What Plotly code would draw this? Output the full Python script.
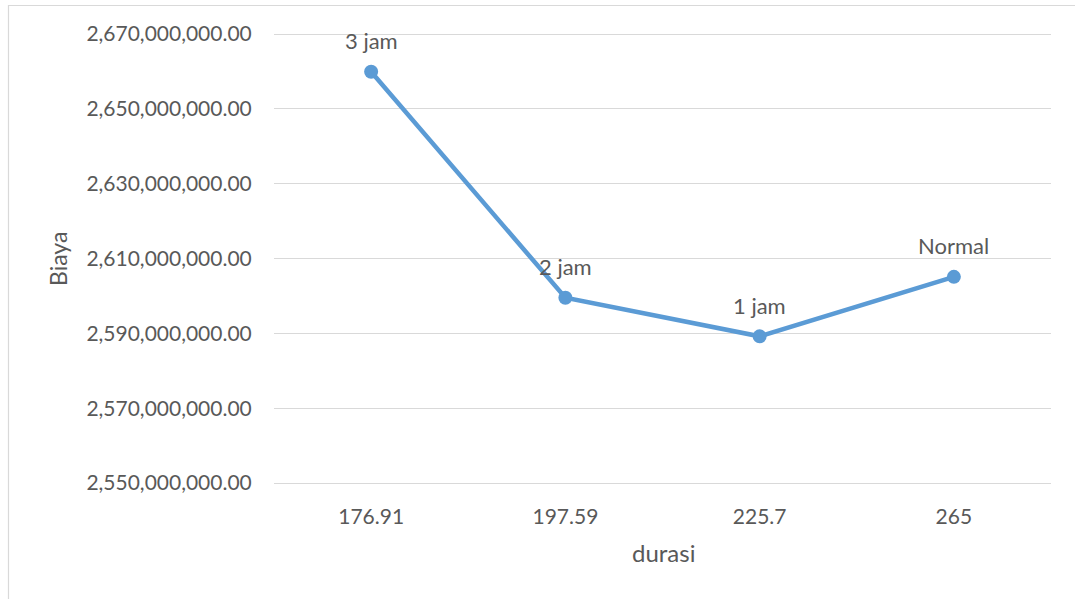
import plotly.graph_objects as go

categories = ["176.91", "197.59", "225.7", "265"]
biaya = [2659900000, 2599500000, 2589200000, 2605100000]
labels = ["3 jam", "2 jam", "1 jam", "Normal"]
y_ticks = [2550000000, 2570000000, 2590000000, 2610000000, 2630000000, 2650000000, 2670000000]
x_title = "durasi"
y_title = "Biaya"

FONT = "Lato"
TXT = "#595959"
W, H = 1075, 599
GRID_TOP, GRID_BOT = 34, 483        # pixel rows of top / bottom gridline
EXTRA = 3                           # extra plot-area pixels beyond the gridlines
L, R, T, B = 274, 1051, GRID_TOP - EXTRA, GRID_BOT + EXTRA
pw, ph = R - L, B - T
span = y_ticks[-1] - y_ticks[0]
pad = span * EXTRA / (GRID_BOT - GRID_TOP)

def px_x(x):
    return (x - L) / pw

def px_y(y):
    return (B - y) / ph

fig = go.Figure()
fig.add_trace(go.Scatter(
    x=categories, y=biaya, mode="lines+markers",
    line=dict(color="#5B9BD5", width=4.5),
    marker=dict(color="#5B9BD5", size=14),
    hoverinfo="skip", showlegend=False,
))
for i, (v, t) in enumerate(zip(biaya, labels)):
    fig.add_annotation(x=i, y=v, xref="x", yref="y", text=t, showarrow=False, yshift=31,
                       font=dict(family=FONT, size=22, color=TXT))

# axis titles
fig.add_annotation(x=px_x(663), y=px_y(552), xref="paper", yref="paper", text=x_title,
                   showarrow=False, xanchor="center", yanchor="middle",
                   font=dict(family=FONT, size=24, color=TXT))
fig.add_annotation(x=px_x(58), y=px_y(259), xref="paper", yref="paper", text=y_title,
                   showarrow=False, xanchor="center", yanchor="middle", textangle=-90,
                   font=dict(family=FONT, size=23, color=TXT))

fig.add_shape(type="rect", xref="paper", yref="paper",
              x0=px_x(8.5), x1=px_x(W + 10),
              y0=px_y(H + 10), y1=px_y(5.5),
              line=dict(color="#D9D9D9", width=1.2), fillcolor="rgba(0,0,0,0)", layer="below")

fig.update_layout(
    width=W, height=H,
    margin=dict(l=L, r=W - R, t=T, b=H - B),
    paper_bgcolor="white", plot_bgcolor="white",
    font=dict(family=FONT, size=21, color=TXT),
    xaxis=dict(type="category", range=[-0.5, 3.5], showgrid=False, zeroline=False,
               showline=False, ticks="outside", ticklen=15 - EXTRA, tickcolor="rgba(0,0,0,0)",
               tickfont=dict(size=21, color=TXT)),
    yaxis=dict(range=[y_ticks[0] - pad, y_ticks[-1] + pad], tickvals=y_ticks, tickformat=",.2f",
               showgrid=True, gridcolor="#D9D9D9", gridwidth=1, zeroline=False,
               showline=False, ticks="outside", ticklen=17, tickcolor="rgba(0,0,0,0)",
               tickfont=dict(size=21, color=TXT)),
)

fig.write_html("out.html", config={"displayModeBar": False},
               post_script="document.body.style.margin='0';")
